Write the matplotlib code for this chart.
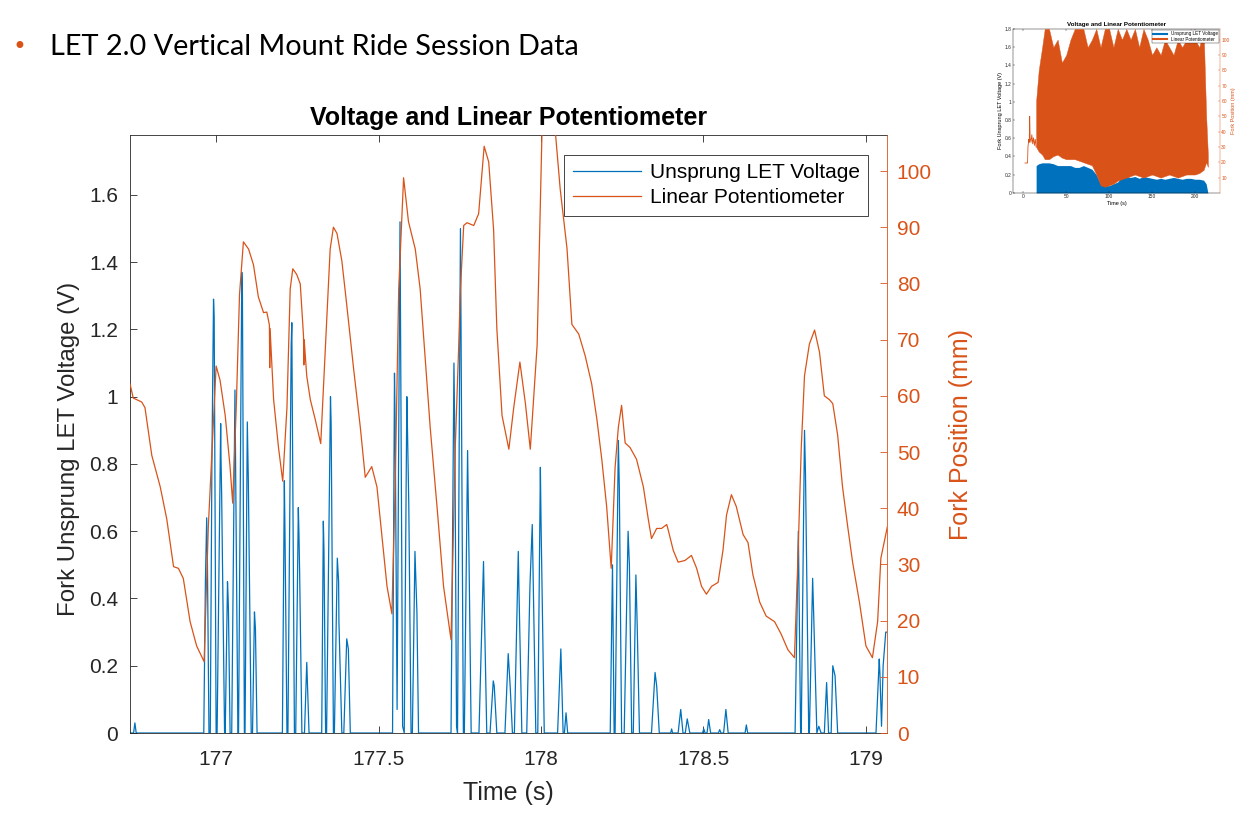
import matplotlib.pyplot as plt

plt.rcParams['font.family'] = ['Liberation Sans', 'DejaVu Sans']

BLUE = '#0072BD'
ORANGE = '#D95319'
DARK = '#262626'

# ---- zoomed window 176.7 - 179.1 s ----
volt_t = [176.735, 176.746, 176.750, 176.754, 176.962, 176.967, 176.971, 176.973, 176.978,
          176.982, 176.987, 176.992, 176.994, 177.000, 177.003, 177.014, 177.015, 177.017,
          177.026, 177.028, 177.035, 177.037, 177.038, 177.043, 177.048, 177.058, 177.067,
          177.069, 177.079, 177.081, 177.087, 177.089, 177.096, 177.099, 177.108, 177.112,
          177.118, 177.121, 177.126, 177.204, 177.210, 177.212, 177.218, 177.221, 177.231,
          177.233, 177.234, 177.241, 177.245, 177.253, 177.255, 177.257, 177.264, 177.272,
          177.279, 177.286, 177.325, 177.330, 177.332, 177.337, 177.340, 177.352, 177.354,
          177.361, 177.364, 177.373, 177.377, 177.378, 177.387, 177.393, 177.402, 177.407,
          177.413, 177.543, 177.549, 177.551, 177.557, 177.566, 177.574, 177.579, 177.587,
          177.589, 177.593, 177.600, 177.604, 177.612, 177.614, 177.618, 177.623, 177.723,
          177.732, 177.735, 177.740, 177.743, 177.752, 177.761, 177.764, 177.774, 177.776,
          177.778, 177.785, 177.809, 177.823, 177.825, 177.833, 177.843, 177.853, 177.856,
          177.864, 177.889, 177.899, 177.905, 177.912, 177.918, 177.930, 177.932, 177.941,
          177.956, 177.966, 177.973, 177.976, 177.984, 177.990, 177.998, 178.000, 178.010,
          178.051, 178.061, 178.068, 178.072, 178.077, 178.082, 178.213, 178.220, 178.225,
          178.228, 178.238, 178.241, 178.248, 178.256, 178.268, 178.272, 178.279, 178.284,
          178.292, 178.296, 178.303, 178.340, 178.351, 178.356, 178.364, 178.399, 178.402,
          178.405, 178.422, 178.430, 178.437, 178.444, 178.450, 178.458, 178.497, 178.501,
          178.505, 178.511, 178.516, 178.522, 178.546, 178.550, 178.554, 178.562, 178.569,
          178.576, 178.628, 178.632, 178.636, 178.782, 178.792, 178.799, 178.801, 178.811,
          178.814, 178.824, 178.826, 178.836, 178.839, 178.849, 178.855, 178.862, 178.872,
          178.879, 178.885, 178.893, 178.898, 178.905, 178.913, 179.031, 179.041, 179.043,
          179.048, 179.053, 179.061, 179.066]
volt_v = [0, 0, 0.03, 0, 0, 0.45, 0.64, 0.53, 0,
          0, 0.8, 1.29, 1.24, 0, 0, 0.92, 0.82, 0.71,
          0, 0, 0.45, 0.4, 0.36, 0, 0, 1.02, 0,
          0, 1.37, 1.3, 0, 0, 0.925, 0.76, 0, 0,
          0.36, 0.31, 0, 0, 0.75, 0.59, 0, 0, 1.15,
          1.22, 1.05, 0, 0, 0.67, 0.59, 0.48, 0, 0,
          0.21, 0, 0, 0.63, 0.54, 0, 0, 1.0, 0.92,
          0, 0, 0.52, 0.45, 0.33, 0, 0, 0.28, 0.25,
          0, 0, 1.07, 0.92, 0.07, 1.52, 0.02, 0, 1.0,
          0.9, 0.68, 0, 0, 0.54, 0.48, 0.36, 0, 0,
          1.1, 0.84, 0.02, 0, 1.5, 0, 0, 0.84, 0.7,
          0.55, 0, 0, 0.51, 0.4, 0, 0, 0.155, 0.14,
          0, 0, 0.236, 0.14, 0, 0, 0.54, 0.43, 0,
          0, 0.44, 0.62, 0.45, 0, 0, 0.79, 0.63, 0,
          0, 0.25, 0, 0, 0.06, 0, 0, 0.5, 0,
          0, 0.87, 0.73, 0, 0, 0.6, 0.5, 0, 0,
          0.47, 0.32, 0, 0, 0.18, 0.14, 0, 0, 0.012,
          0, 0, 0.07, 0, 0, 0.042, 0, 0, 0.012,
          0, 0, 0.04, 0, 0, 0.01, 0, 0, 0.07,
          0, 0, 0.024, 0, 0, 0.6, 0, 0, 0.9,
          0.77, 0, 0, 0.46, 0.36, 0, 0.02, 0, 0,
          0.15, 0, 0, 0.2, 0.17, 0, 0, 0.22, 0.18,
          0.02, 0.2, 0.3, 0.3]

pot_t = [176.735, 176.745, 176.771, 176.781, 176.802, 176.828, 176.848, 176.869, 176.884,
         176.899, 176.920, 176.940, 176.963, 176.976, 177.000, 177.012, 177.028, 177.043,
         177.051, 177.062, 177.072, 177.084, 177.100, 177.115, 177.130, 177.146, 177.156,
         177.164, 177.165, 177.166, 177.177, 177.192, 177.205, 177.218, 177.228, 177.236,
         177.248, 177.259, 177.269, 177.270, 177.271, 177.279, 177.290, 177.305, 177.322,
         177.336, 177.351, 177.361, 177.372, 177.387, 177.402, 177.423, 177.444, 177.459,
         177.479, 177.495, 177.510, 177.526, 177.541, 177.551, 177.562, 177.577, 177.592,
         177.613, 177.628, 177.644, 177.659, 177.680, 177.700, 177.723, 177.736, 177.746,
         177.752, 177.762, 177.772, 177.793, 177.808, 177.825, 177.839, 177.854, 177.864,
         177.880, 177.901, 177.916, 177.935, 177.952, 177.967, 177.988, 178.003, 178.018,
         178.044, 178.059, 178.080, 178.095, 178.116, 178.136, 178.156, 178.172, 178.187,
         178.202, 178.216, 178.228, 178.238, 178.248, 178.259, 178.274, 178.294, 178.315,
         178.330, 178.340, 178.356, 178.371, 178.387, 178.392, 178.407, 178.422, 178.443,
         178.463, 178.479, 178.494, 178.509, 178.525, 178.545, 178.560, 178.571, 178.586,
         178.601, 178.622, 178.637, 178.652, 178.673, 178.693, 178.719, 178.739, 178.760,
         178.780, 178.790, 178.801, 178.811, 178.826, 178.842, 178.857, 178.872, 178.888,
         178.898, 178.913, 178.928, 178.944, 178.959, 178.980, 179.000, 179.020, 179.036,
         179.046, 179.066]
pot_mm = [62.1, 59.6, 58.9, 57.9, 49.4, 43.8, 38.1, 29.6, 29.3,
          27.5, 19.8, 15.5, 12.7, 36.7, 65.3, 62.8, 56.5, 47.3,
          40.9, 58.0, 78.0, 87.4, 86.1, 83.3, 77.6, 74.8, 74.9,
          72.6, 65.0, 72.0, 59.3, 50.8, 44.8, 57.9, 79.0, 82.6,
          81.6, 79.9, 70.6, 65.5, 70.0, 63.5, 59.3, 55.8, 51.5,
          68.4, 86.1, 90.0, 88.9, 84.0, 76.2, 64.9, 54.3, 45.5,
          47.4, 43.8, 35.3, 26.1, 21.2, 43.8, 79.0, 98.8, 91.0,
          86.1, 79.0, 66.3, 54.3, 40.2, 26.1, 16.6, 50.8, 67.7,
          79.0, 90.3, 90.8, 90.3, 92.4, 104.4, 101.6, 89.6, 72.0,
          56.5, 50.5, 57.9, 66.0, 58.6, 50.5, 69.0, 107.0, 116.0,
          107.0, 96.8, 86.2, 72.7, 71.0, 67.1, 62.1, 55.8, 48.7,
          40.3, 29.3, 47.3, 54.4, 58.3, 51.6, 50.8, 48.7, 43.8,
          38.1, 34.6, 36.4, 36.4, 37.1, 36.0, 32.5, 30.4, 30.7,
          31.6, 29.3, 26.1, 24.7, 26.1, 26.8, 32.5, 38.8, 42.4,
          40.3, 35.3, 33.9, 28.2, 23.3, 20.8, 19.8, 17.6, 14.8,
          13.4, 29.7, 50.8, 63.6, 69.2, 71.7, 67.8, 60.0, 59.3,
          58.6, 53.0, 43.8, 36.7, 30.4, 23.3, 15.5, 13.4, 19.8,
          31.1, 36.7]

x_ticks = [177, 177.5, 178, 178.5, 179]
x_labels = ['177', '177.5', '178', '178.5', '179']
v_ticks = [0, 0.2, 0.4, 0.6, 0.8, 1.0, 1.2, 1.4, 1.6]
v_labels = ['0', '0.2', '0.4', '0.6', '0.8', '1', '1.2', '1.4', '1.6']
mm_ticks = [0, 10, 20, 30, 40, 50, 60, 70, 80, 90, 100]

# ---- full session thumbnail (envelopes) ----
thumb_start_t = [2, 5, 5.5, 6.5, 7, 7.5, 8, 9, 10, 11, 12, 13, 14, 15]
thumb_start_mm = [19.5, 19.5, 30, 35, 33, 50, 36, 33, 38, 32, 36, 31, 35, 30]
thumb_t = [15, 18, 22, 25, 30, 35, 40, 45, 50, 55, 60, 65, 70, 75, 80, 85, 90, 95, 100, 105,
           110, 115, 120, 125, 130, 135, 140, 145, 150, 155, 160, 165, 170, 175, 180, 185,
           190, 195, 200, 205, 210, 213, 215]
thumb_pot_hi = [60, 80, 95, 107, 107, 95, 100, 85, 90, 100, 107, 107, 107, 95, 100, 107, 95,
                107, 107, 95, 107, 100, 107, 100, 107, 95, 107, 100, 90, 95, 90, 100, 95, 90,
                100, 95, 100, 107, 100, 95, 107, 50, 25]
thumb_pot_lo = [30, 27, 25, 22, 22, 24, 25, 23, 22, 22, 22, 21, 20, 19, 18, 12, 5, 4, 5, 6,
                8, 9, 10, 11, 12, 11, 10, 11, 12, 11, 10, 11, 12, 11, 10, 11, 12, 12, 12, 13,
                15, 20, 17]
thumb_volt_hi = [0.3, 0.32, 0.33, 0.33, 0.33, 0.32, 0.3, 0.3, 0.3, 0.3, 0.28, 0.28, 0.3, 0.28,
                 0.26, 0.2, 0.1, 0.08, 0.08, 0.1, 0.12, 0.18, 0.18, 0.17, 0.18, 0.16, 0.18,
                 0.17, 0.16, 0.15, 0.16, 0.15, 0.16, 0.17, 0.16, 0.15, 0.16, 0.16, 0.15, 0.15,
                 0.14, 0.1, 0]

fig = plt.figure(figsize=(12.49, 8.14), dpi=100)

# slide bullet
fig.text(0.010, 0.942, '\u2022', color=ORANGE, fontsize=17, va='center', family='DejaVu Sans')
fig.text(0.040, 0.942, 'LET 2.0 Vertical Mount Ride Session Data', fontsize=20.8,
         va='center', family='Lato', color='black')

# main chart
ax = fig.add_axes([0.1041, 0.0995, 0.6061, 0.7346])
ax2 = ax.twinx()
l1, = ax.plot(volt_t, volt_v, color=BLUE, lw=0.9, label='Unsprung LET Voltage')
l2, = ax2.plot(pot_t, pot_mm, color=ORANGE, lw=0.9, label='Linear Potentiometer')

ax.set_xlim(176.735, 179.065)
ax.set_ylim(0, 1.778)
ax2.set_ylim(0, 106.4)
ax.set_xticks(x_ticks)
ax.set_xticklabels(x_labels)
ax.set_yticks(v_ticks)
ax.set_yticklabels(v_labels)
ax2.set_yticks(mm_ticks)

ax.tick_params(axis='both', direction='in', length=5, width=0.6, labelsize=15,
               colors=DARK, top=True, right=False)
ax.tick_params(axis='x', pad=12)
ax.tick_params(axis='y', pad=8.5)
ax2.tick_params(axis='y', direction='in', length=5, width=0.6, labelsize=15,
                colors=ORANGE, pad=7)
for s in ['left', 'top', 'bottom']:
    ax.spines[s].set_color(DARK)
    ax.spines[s].set_linewidth(0.6)
    ax2.spines[s].set_visible(False)
ax.spines['right'].set_visible(False)
ax2.spines['right'].set_color(ORANGE)
ax2.spines['right'].set_linewidth(0.6)

ax.set_title('Voltage and Linear Potentiometer', fontsize=18, fontweight='bold', pad=7)
ax.set_xlabel('Time (s)', fontsize=18, color=DARK, labelpad=9)
ax.set_ylabel('Fork Unsprung LET Voltage (V)', fontsize=17.3, color=DARK)
ax.yaxis.set_label_coords(-0.066, 0.475)
ax2.set_ylabel('Fork Position (mm)', fontsize=18, color=ORANGE, labelpad=12)

leg = ax2.legend([l1, l2], ['Unsprung LET Voltage', 'Linear Potentiometer'],
                 loc='upper right', bbox_to_anchor=(0.975, 0.967), borderaxespad=0,
                 fontsize=15, handlelength=3.3, fancybox=False, framealpha=1,
                 edgecolor=DARK, borderpad=0.4, labelspacing=0.3, handletextpad=0.4)
leg.get_frame().set_linewidth(0.6)

# thumbnail of the whole ride
tx = fig.add_axes([0.811, 0.763, 0.1657, 0.2015])
tx2 = tx.twinx()
tx.fill_between(thumb_t, 0, thumb_volt_hi, color=BLUE, lw=0)
tx2.fill_between(thumb_t, thumb_pot_lo, thumb_pot_hi, color=ORANGE, lw=0.3)
tx2.plot(thumb_start_t, thumb_start_mm, color=ORANGE, lw=0.6)
tx.set_xlim(-12, 229)
tx.set_ylim(0, 1.8)
tx2.set_ylim(0, 107)
tx.set_xticks([0, 50, 100, 150, 200])
tx.set_yticks([0, 0.2, 0.4, 0.6, 0.8, 1.0, 1.2, 1.4, 1.6, 1.8])
tx.set_yticklabels(['0', '0.2', '0.4', '0.6', '0.8', '1', '1.2', '1.4', '1.6', '1.8'])
tx2.set_yticks([10, 20, 30, 40, 50, 60, 70, 80, 90, 100])
tx.tick_params(direction='in', length=1.5, width=0.3, labelsize=3.5, pad=1, top=True,
               right=False, colors=DARK)
tx2.tick_params(direction='in', length=1.5, width=0.3, labelsize=3.5, pad=1, colors=ORANGE)
for s in ['left', 'top', 'bottom']:
    tx.spines[s].set_linewidth(0.3)
    tx2.spines[s].set_visible(False)
tx.spines['right'].set_visible(False)
tx2.spines['right'].set_color(ORANGE)
tx2.spines['right'].set_linewidth(0.3)
tx.set_title('Voltage and Linear Potentiometer', fontsize=4.5, fontweight='bold', pad=2)
tx.set_xlabel('Time (s)', fontsize=4, labelpad=1)
tx.set_ylabel('Fork Unsprung LET Voltage (V)', fontsize=4, labelpad=1)
tx2.set_ylabel('Fork Position (mm)', fontsize=4, color=ORANGE, labelpad=1)
tleg = tx2.legend([l1, l2], ['Unsprung LET Voltage', 'Linear Potentiometer'],
                  loc='upper right', fontsize=3.3, fancybox=False, framealpha=1,
                  edgecolor=DARK, borderpad=0.2, labelspacing=0.1, handlelength=3,
                  borderaxespad=0.3)
tleg.get_frame().set_linewidth(0.3)
for h in tleg.legend_handles:
    h.set_linewidth(1.5)

fig.savefig('out.png', dpi=100)
